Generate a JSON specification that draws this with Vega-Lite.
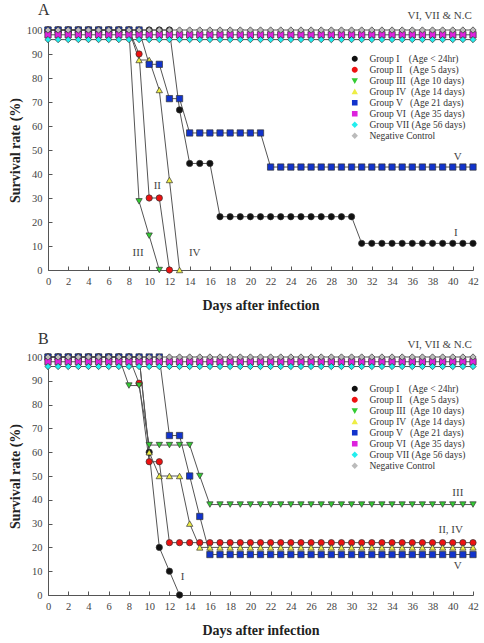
{
"$schema":"https://vega.github.io/schema/vega-lite/v6.json",
"padding":{"left":8,"top":1,"right":0,"bottom":0},
"background":"white",
"spacing":87,
"bounds":"flush",
"resolve":{"scale":{"fill":"independent","shape":"independent"},"legend":{"fill":"independent","shape":"independent"}},
"config":{"view":{"stroke":null},"font":"Liberation Serif",
"axis":{"grid":false,"domainColor":"#555","tickColor":"#555","tickSize":-4,"labelColor":"#444","labelFont":"Liberation Serif","labelFontSize":10.5,"labelPadding":10,"labelOverlap":false,"labelFlush":false,"titleFont":"Liberation Serif","titleFontSize":14,"titleFontWeight":"bold","titleColor":"#222"},
"legend":{"padding":0,"title":null,"orient":"none","legendX":302,"symbolSize":64,"symbolOpacity":1,"labelFontSize":9.5,"labelFont":"Liberation Serif","labelColor":"#333","labelOffset":10,"rowPadding":0,"symbolStrokeColor":"#333","symbolStrokeWidth":0.8}},
"datasets":{
"a":[
{"g":"I","d":0,"s":100},{"g":"I","d":1,"s":100},{"g":"I","d":2,"s":100},{"g":"I","d":3,"s":100},{"g":"I","d":4,"s":100},{"g":"I","d":5,"s":100},{"g":"I","d":6,"s":100},{"g":"I","d":7,"s":100},{"g":"I","d":8,"s":100},{"g":"I","d":9,"s":100},{"g":"I","d":10,"s":100},{"g":"I","d":11,"s":100},{"g":"I","d":12,"s":100},{"g":"I","d":13,"s":66.7},{"g":"I","d":14,"s":44.4},{"g":"I","d":15,"s":44.4},{"g":"I","d":16,"s":44.4},{"g":"I","d":17,"s":22.2},{"g":"I","d":18,"s":22.2},{"g":"I","d":19,"s":22.2},{"g":"I","d":20,"s":22.2},{"g":"I","d":21,"s":22.2},{"g":"I","d":22,"s":22.2},{"g":"I","d":23,"s":22.2},{"g":"I","d":24,"s":22.2},{"g":"I","d":25,"s":22.2},{"g":"I","d":26,"s":22.2},{"g":"I","d":27,"s":22.2},{"g":"I","d":28,"s":22.2},{"g":"I","d":29,"s":22.2},{"g":"I","d":30,"s":22.2},{"g":"I","d":31,"s":11.1},{"g":"I","d":32,"s":11.1},{"g":"I","d":33,"s":11.1},{"g":"I","d":34,"s":11.1},{"g":"I","d":35,"s":11.1},{"g":"I","d":36,"s":11.1},{"g":"I","d":37,"s":11.1},{"g":"I","d":38,"s":11.1},{"g":"I","d":39,"s":11.1},{"g":"I","d":40,"s":11.1},{"g":"I","d":41,"s":11.1},{"g":"I","d":42,"s":11.1},
{"g":"II","d":0,"s":100},{"g":"II","d":1,"s":100},{"g":"II","d":2,"s":100},{"g":"II","d":3,"s":100},{"g":"II","d":4,"s":100},{"g":"II","d":5,"s":100},{"g":"II","d":6,"s":100},{"g":"II","d":7,"s":100},{"g":"II","d":8,"s":100},{"g":"II","d":9,"s":90},{"g":"II","d":10,"s":30},{"g":"II","d":11,"s":30},{"g":"II","d":12,"s":0},
{"g":"III","d":0,"s":100},{"g":"III","d":1,"s":100},{"g":"III","d":2,"s":100},{"g":"III","d":3,"s":100},{"g":"III","d":4,"s":100},{"g":"III","d":5,"s":100},{"g":"III","d":6,"s":100},{"g":"III","d":7,"s":100},{"g":"III","d":8,"s":100},{"g":"III","d":9,"s":28.6},{"g":"III","d":10,"s":14.3},{"g":"III","d":11,"s":0},
{"g":"IV","d":0,"s":100},{"g":"IV","d":1,"s":100},{"g":"IV","d":2,"s":100},{"g":"IV","d":3,"s":100},{"g":"IV","d":4,"s":100},{"g":"IV","d":5,"s":100},{"g":"IV","d":6,"s":100},{"g":"IV","d":7,"s":100},{"g":"IV","d":8,"s":100},{"g":"IV","d":9,"s":87.5},{"g":"IV","d":10,"s":87.5},{"g":"IV","d":11,"s":75},{"g":"IV","d":12,"s":37.5},{"g":"IV","d":13,"s":0},
{"g":"V","d":0,"s":100},{"g":"V","d":1,"s":100},{"g":"V","d":2,"s":100},{"g":"V","d":3,"s":100},{"g":"V","d":4,"s":100},{"g":"V","d":5,"s":100},{"g":"V","d":6,"s":100},{"g":"V","d":7,"s":100},{"g":"V","d":8,"s":100},{"g":"V","d":9,"s":100},{"g":"V","d":10,"s":85.7},{"g":"V","d":11,"s":85.7},{"g":"V","d":12,"s":71.4},{"g":"V","d":13,"s":71.4},{"g":"V","d":14,"s":57.1},{"g":"V","d":15,"s":57.1},{"g":"V","d":16,"s":57.1},{"g":"V","d":17,"s":57.1},{"g":"V","d":18,"s":57.1},{"g":"V","d":19,"s":57.1},{"g":"V","d":20,"s":57.1},{"g":"V","d":21,"s":57.1},{"g":"V","d":22,"s":42.9},{"g":"V","d":23,"s":42.9},{"g":"V","d":24,"s":42.9},{"g":"V","d":25,"s":42.9},{"g":"V","d":26,"s":42.9},{"g":"V","d":27,"s":42.9},{"g":"V","d":28,"s":42.9},{"g":"V","d":29,"s":42.9},{"g":"V","d":30,"s":42.9},{"g":"V","d":31,"s":42.9},{"g":"V","d":32,"s":42.9},{"g":"V","d":33,"s":42.9},{"g":"V","d":34,"s":42.9},{"g":"V","d":35,"s":42.9},{"g":"V","d":36,"s":42.9},{"g":"V","d":37,"s":42.9},{"g":"V","d":38,"s":42.9},{"g":"V","d":39,"s":42.9},{"g":"V","d":40,"s":42.9},{"g":"V","d":41,"s":42.9},{"g":"V","d":42,"s":42.9},
{"g":"VI","d":0,"s":98},{"g":"VI","d":1,"s":98},{"g":"VI","d":2,"s":98},{"g":"VI","d":3,"s":98},{"g":"VI","d":4,"s":98},{"g":"VI","d":5,"s":98},{"g":"VI","d":6,"s":98},{"g":"VI","d":7,"s":98},{"g":"VI","d":8,"s":98},{"g":"VI","d":9,"s":98},{"g":"VI","d":10,"s":98},{"g":"VI","d":11,"s":98},{"g":"VI","d":12,"s":98},{"g":"VI","d":13,"s":98},{"g":"VI","d":14,"s":98},{"g":"VI","d":15,"s":98},{"g":"VI","d":16,"s":98},{"g":"VI","d":17,"s":98},{"g":"VI","d":18,"s":98},{"g":"VI","d":19,"s":98},{"g":"VI","d":20,"s":98},{"g":"VI","d":21,"s":98},{"g":"VI","d":22,"s":98},{"g":"VI","d":23,"s":98},{"g":"VI","d":24,"s":98},{"g":"VI","d":25,"s":98},{"g":"VI","d":26,"s":98},{"g":"VI","d":27,"s":98},{"g":"VI","d":28,"s":98},{"g":"VI","d":29,"s":98},{"g":"VI","d":30,"s":98},{"g":"VI","d":31,"s":98},{"g":"VI","d":32,"s":98},{"g":"VI","d":33,"s":98},{"g":"VI","d":34,"s":98},{"g":"VI","d":35,"s":98},{"g":"VI","d":36,"s":98},{"g":"VI","d":37,"s":98},{"g":"VI","d":38,"s":98},{"g":"VI","d":39,"s":98},{"g":"VI","d":40,"s":98},{"g":"VI","d":41,"s":98},{"g":"VI","d":42,"s":98},
{"g":"VII","d":0,"s":96},{"g":"VII","d":1,"s":96},{"g":"VII","d":2,"s":96},{"g":"VII","d":3,"s":96},{"g":"VII","d":4,"s":96},{"g":"VII","d":5,"s":96},{"g":"VII","d":6,"s":96},{"g":"VII","d":7,"s":96},{"g":"VII","d":8,"s":96},{"g":"VII","d":9,"s":96},{"g":"VII","d":10,"s":96},{"g":"VII","d":11,"s":96},{"g":"VII","d":12,"s":96},{"g":"VII","d":13,"s":96},{"g":"VII","d":14,"s":96},{"g":"VII","d":15,"s":96},{"g":"VII","d":16,"s":96},{"g":"VII","d":17,"s":96},{"g":"VII","d":18,"s":96},{"g":"VII","d":19,"s":96},{"g":"VII","d":20,"s":96},{"g":"VII","d":21,"s":96},{"g":"VII","d":22,"s":96},{"g":"VII","d":23,"s":96},{"g":"VII","d":24,"s":96},{"g":"VII","d":25,"s":96},{"g":"VII","d":26,"s":96},{"g":"VII","d":27,"s":96},{"g":"VII","d":28,"s":96},{"g":"VII","d":29,"s":96},{"g":"VII","d":30,"s":96},{"g":"VII","d":31,"s":96},{"g":"VII","d":32,"s":96},{"g":"VII","d":33,"s":96},{"g":"VII","d":34,"s":96},{"g":"VII","d":35,"s":96},{"g":"VII","d":36,"s":96},{"g":"VII","d":37,"s":96},{"g":"VII","d":38,"s":96},{"g":"VII","d":39,"s":96},{"g":"VII","d":40,"s":96},{"g":"VII","d":41,"s":96},{"g":"VII","d":42,"s":96},
{"g":"NC","d":0,"s":100},{"g":"NC","d":1,"s":100},{"g":"NC","d":2,"s":100},{"g":"NC","d":3,"s":100},{"g":"NC","d":4,"s":100},{"g":"NC","d":5,"s":100},{"g":"NC","d":6,"s":100},{"g":"NC","d":7,"s":100},{"g":"NC","d":8,"s":100},{"g":"NC","d":9,"s":100},{"g":"NC","d":10,"s":100},{"g":"NC","d":11,"s":100},{"g":"NC","d":12,"s":100},{"g":"NC","d":13,"s":100},{"g":"NC","d":14,"s":100},{"g":"NC","d":15,"s":100},{"g":"NC","d":16,"s":100},{"g":"NC","d":17,"s":100},{"g":"NC","d":18,"s":100},{"g":"NC","d":19,"s":100},{"g":"NC","d":20,"s":100},{"g":"NC","d":21,"s":100},{"g":"NC","d":22,"s":100},{"g":"NC","d":23,"s":100},{"g":"NC","d":24,"s":100},{"g":"NC","d":25,"s":100},{"g":"NC","d":26,"s":100},{"g":"NC","d":27,"s":100},{"g":"NC","d":28,"s":100},{"g":"NC","d":29,"s":100},{"g":"NC","d":30,"s":100},{"g":"NC","d":31,"s":100},{"g":"NC","d":32,"s":100},{"g":"NC","d":33,"s":100},{"g":"NC","d":34,"s":100},{"g":"NC","d":35,"s":100},{"g":"NC","d":36,"s":100},{"g":"NC","d":37,"s":100},{"g":"NC","d":38,"s":100},{"g":"NC","d":39,"s":100},{"g":"NC","d":40,"s":100},{"g":"NC","d":41,"s":100},{"g":"NC","d":42,"s":100}
],
"b":[
{"g":"I","d":0,"s":100},{"g":"I","d":1,"s":100},{"g":"I","d":2,"s":100},{"g":"I","d":3,"s":100},{"g":"I","d":4,"s":100},{"g":"I","d":5,"s":100},{"g":"I","d":6,"s":100},{"g":"I","d":7,"s":100},{"g":"I","d":8,"s":100},{"g":"I","d":9,"s":100},{"g":"I","d":10,"s":60},{"g":"I","d":11,"s":20},{"g":"I","d":12,"s":10},{"g":"I","d":13,"s":0},
{"g":"II","d":0,"s":100},{"g":"II","d":1,"s":100},{"g":"II","d":2,"s":100},{"g":"II","d":3,"s":100},{"g":"II","d":4,"s":100},{"g":"II","d":5,"s":100},{"g":"II","d":6,"s":100},{"g":"II","d":7,"s":100},{"g":"II","d":8,"s":100},{"g":"II","d":9,"s":89},{"g":"II","d":10,"s":56},{"g":"II","d":11,"s":56},{"g":"II","d":12,"s":22},{"g":"II","d":13,"s":22},{"g":"II","d":14,"s":22},{"g":"II","d":15,"s":22},{"g":"II","d":16,"s":22},{"g":"II","d":17,"s":22},{"g":"II","d":18,"s":22},{"g":"II","d":19,"s":22},{"g":"II","d":20,"s":22},{"g":"II","d":21,"s":22},{"g":"II","d":22,"s":22},{"g":"II","d":23,"s":22},{"g":"II","d":24,"s":22},{"g":"II","d":25,"s":22},{"g":"II","d":26,"s":22},{"g":"II","d":27,"s":22},{"g":"II","d":28,"s":22},{"g":"II","d":29,"s":22},{"g":"II","d":30,"s":22},{"g":"II","d":31,"s":22},{"g":"II","d":32,"s":22},{"g":"II","d":33,"s":22},{"g":"II","d":34,"s":22},{"g":"II","d":35,"s":22},{"g":"II","d":36,"s":22},{"g":"II","d":37,"s":22},{"g":"II","d":38,"s":22},{"g":"II","d":39,"s":22},{"g":"II","d":40,"s":22},{"g":"II","d":41,"s":22},{"g":"II","d":42,"s":22},
{"g":"III","d":0,"s":100},{"g":"III","d":1,"s":100},{"g":"III","d":2,"s":100},{"g":"III","d":3,"s":100},{"g":"III","d":4,"s":100},{"g":"III","d":5,"s":100},{"g":"III","d":6,"s":100},{"g":"III","d":7,"s":100},{"g":"III","d":8,"s":88},{"g":"III","d":9,"s":88},{"g":"III","d":10,"s":63},{"g":"III","d":11,"s":63},{"g":"III","d":12,"s":63},{"g":"III","d":13,"s":63},{"g":"III","d":14,"s":63},{"g":"III","d":15,"s":50},{"g":"III","d":16,"s":38},{"g":"III","d":17,"s":38},{"g":"III","d":18,"s":38},{"g":"III","d":19,"s":38},{"g":"III","d":20,"s":38},{"g":"III","d":21,"s":38},{"g":"III","d":22,"s":38},{"g":"III","d":23,"s":38},{"g":"III","d":24,"s":38},{"g":"III","d":25,"s":38},{"g":"III","d":26,"s":38},{"g":"III","d":27,"s":38},{"g":"III","d":28,"s":38},{"g":"III","d":29,"s":38},{"g":"III","d":30,"s":38},{"g":"III","d":31,"s":38},{"g":"III","d":32,"s":38},{"g":"III","d":33,"s":38},{"g":"III","d":34,"s":38},{"g":"III","d":35,"s":38},{"g":"III","d":36,"s":38},{"g":"III","d":37,"s":38},{"g":"III","d":38,"s":38},{"g":"III","d":39,"s":38},{"g":"III","d":40,"s":38},{"g":"III","d":41,"s":38},{"g":"III","d":42,"s":38},
{"g":"IV","d":0,"s":100},{"g":"IV","d":1,"s":100},{"g":"IV","d":2,"s":100},{"g":"IV","d":3,"s":100},{"g":"IV","d":4,"s":100},{"g":"IV","d":5,"s":100},{"g":"IV","d":6,"s":100},{"g":"IV","d":7,"s":100},{"g":"IV","d":8,"s":100},{"g":"IV","d":9,"s":100},{"g":"IV","d":10,"s":60},{"g":"IV","d":11,"s":50},{"g":"IV","d":12,"s":50},{"g":"IV","d":13,"s":50},{"g":"IV","d":14,"s":30},{"g":"IV","d":15,"s":20},{"g":"IV","d":16,"s":20},{"g":"IV","d":17,"s":20},{"g":"IV","d":18,"s":20},{"g":"IV","d":19,"s":20},{"g":"IV","d":20,"s":20},{"g":"IV","d":21,"s":20},{"g":"IV","d":22,"s":20},{"g":"IV","d":23,"s":20},{"g":"IV","d":24,"s":20},{"g":"IV","d":25,"s":20},{"g":"IV","d":26,"s":20},{"g":"IV","d":27,"s":20},{"g":"IV","d":28,"s":20},{"g":"IV","d":29,"s":20},{"g":"IV","d":30,"s":20},{"g":"IV","d":31,"s":20},{"g":"IV","d":32,"s":20},{"g":"IV","d":33,"s":20},{"g":"IV","d":34,"s":20},{"g":"IV","d":35,"s":20},{"g":"IV","d":36,"s":20},{"g":"IV","d":37,"s":20},{"g":"IV","d":38,"s":20},{"g":"IV","d":39,"s":20},{"g":"IV","d":40,"s":20},{"g":"IV","d":41,"s":20},{"g":"IV","d":42,"s":20},
{"g":"V","d":0,"s":100},{"g":"V","d":1,"s":100},{"g":"V","d":2,"s":100},{"g":"V","d":3,"s":100},{"g":"V","d":4,"s":100},{"g":"V","d":5,"s":100},{"g":"V","d":6,"s":100},{"g":"V","d":7,"s":100},{"g":"V","d":8,"s":100},{"g":"V","d":9,"s":100},{"g":"V","d":10,"s":100},{"g":"V","d":11,"s":100},{"g":"V","d":12,"s":67},{"g":"V","d":13,"s":67},{"g":"V","d":14,"s":50},{"g":"V","d":15,"s":33},{"g":"V","d":16,"s":17},{"g":"V","d":17,"s":17},{"g":"V","d":18,"s":17},{"g":"V","d":19,"s":17},{"g":"V","d":20,"s":17},{"g":"V","d":21,"s":17},{"g":"V","d":22,"s":17},{"g":"V","d":23,"s":17},{"g":"V","d":24,"s":17},{"g":"V","d":25,"s":17},{"g":"V","d":26,"s":17},{"g":"V","d":27,"s":17},{"g":"V","d":28,"s":17},{"g":"V","d":29,"s":17},{"g":"V","d":30,"s":17},{"g":"V","d":31,"s":17},{"g":"V","d":32,"s":17},{"g":"V","d":33,"s":17},{"g":"V","d":34,"s":17},{"g":"V","d":35,"s":17},{"g":"V","d":36,"s":17},{"g":"V","d":37,"s":17},{"g":"V","d":38,"s":17},{"g":"V","d":39,"s":17},{"g":"V","d":40,"s":17},{"g":"V","d":41,"s":17},{"g":"V","d":42,"s":17},
{"g":"VI","d":0,"s":98},{"g":"VI","d":1,"s":98},{"g":"VI","d":2,"s":98},{"g":"VI","d":3,"s":98},{"g":"VI","d":4,"s":98},{"g":"VI","d":5,"s":98},{"g":"VI","d":6,"s":98},{"g":"VI","d":7,"s":98},{"g":"VI","d":8,"s":98},{"g":"VI","d":9,"s":98},{"g":"VI","d":10,"s":98},{"g":"VI","d":11,"s":98},{"g":"VI","d":12,"s":98},{"g":"VI","d":13,"s":98},{"g":"VI","d":14,"s":98},{"g":"VI","d":15,"s":98},{"g":"VI","d":16,"s":98},{"g":"VI","d":17,"s":98},{"g":"VI","d":18,"s":98},{"g":"VI","d":19,"s":98},{"g":"VI","d":20,"s":98},{"g":"VI","d":21,"s":98},{"g":"VI","d":22,"s":98},{"g":"VI","d":23,"s":98},{"g":"VI","d":24,"s":98},{"g":"VI","d":25,"s":98},{"g":"VI","d":26,"s":98},{"g":"VI","d":27,"s":98},{"g":"VI","d":28,"s":98},{"g":"VI","d":29,"s":98},{"g":"VI","d":30,"s":98},{"g":"VI","d":31,"s":98},{"g":"VI","d":32,"s":98},{"g":"VI","d":33,"s":98},{"g":"VI","d":34,"s":98},{"g":"VI","d":35,"s":98},{"g":"VI","d":36,"s":98},{"g":"VI","d":37,"s":98},{"g":"VI","d":38,"s":98},{"g":"VI","d":39,"s":98},{"g":"VI","d":40,"s":98},{"g":"VI","d":41,"s":98},{"g":"VI","d":42,"s":98},
{"g":"VII","d":0,"s":96},{"g":"VII","d":1,"s":96},{"g":"VII","d":2,"s":96},{"g":"VII","d":3,"s":96},{"g":"VII","d":4,"s":96},{"g":"VII","d":5,"s":96},{"g":"VII","d":6,"s":96},{"g":"VII","d":7,"s":96},{"g":"VII","d":8,"s":96},{"g":"VII","d":9,"s":96},{"g":"VII","d":10,"s":96},{"g":"VII","d":11,"s":96},{"g":"VII","d":12,"s":96},{"g":"VII","d":13,"s":96},{"g":"VII","d":14,"s":96},{"g":"VII","d":15,"s":96},{"g":"VII","d":16,"s":96},{"g":"VII","d":17,"s":96},{"g":"VII","d":18,"s":96},{"g":"VII","d":19,"s":96},{"g":"VII","d":20,"s":96},{"g":"VII","d":21,"s":96},{"g":"VII","d":22,"s":96},{"g":"VII","d":23,"s":96},{"g":"VII","d":24,"s":96},{"g":"VII","d":25,"s":96},{"g":"VII","d":26,"s":96},{"g":"VII","d":27,"s":96},{"g":"VII","d":28,"s":96},{"g":"VII","d":29,"s":96},{"g":"VII","d":30,"s":96},{"g":"VII","d":31,"s":96},{"g":"VII","d":32,"s":96},{"g":"VII","d":33,"s":96},{"g":"VII","d":34,"s":96},{"g":"VII","d":35,"s":96},{"g":"VII","d":36,"s":96},{"g":"VII","d":37,"s":96},{"g":"VII","d":38,"s":96},{"g":"VII","d":39,"s":96},{"g":"VII","d":40,"s":96},{"g":"VII","d":41,"s":96},{"g":"VII","d":42,"s":96},
{"g":"NC","d":0,"s":100},{"g":"NC","d":1,"s":100},{"g":"NC","d":2,"s":100},{"g":"NC","d":3,"s":100},{"g":"NC","d":4,"s":100},{"g":"NC","d":5,"s":100},{"g":"NC","d":6,"s":100},{"g":"NC","d":7,"s":100},{"g":"NC","d":8,"s":100},{"g":"NC","d":9,"s":100},{"g":"NC","d":10,"s":100},{"g":"NC","d":11,"s":100},{"g":"NC","d":12,"s":100},{"g":"NC","d":13,"s":100},{"g":"NC","d":14,"s":100},{"g":"NC","d":15,"s":100},{"g":"NC","d":16,"s":100},{"g":"NC","d":17,"s":100},{"g":"NC","d":18,"s":100},{"g":"NC","d":19,"s":100},{"g":"NC","d":20,"s":100},{"g":"NC","d":21,"s":100},{"g":"NC","d":22,"s":100},{"g":"NC","d":23,"s":100},{"g":"NC","d":24,"s":100},{"g":"NC","d":25,"s":100},{"g":"NC","d":26,"s":100},{"g":"NC","d":27,"s":100},{"g":"NC","d":28,"s":100},{"g":"NC","d":29,"s":100},{"g":"NC","d":30,"s":100},{"g":"NC","d":31,"s":100},{"g":"NC","d":32,"s":100},{"g":"NC","d":33,"s":100},{"g":"NC","d":34,"s":100},{"g":"NC","d":35,"s":100},{"g":"NC","d":36,"s":100},{"g":"NC","d":37,"s":100},{"g":"NC","d":38,"s":100},{"g":"NC","d":39,"s":100},{"g":"NC","d":40,"s":100},{"g":"NC","d":41,"s":100},{"g":"NC","d":42,"s":100}
],
"ann":[
{"p":"A","d":38.7,"s":106,"t":"VI, VII & N.C"},{"p":"A","d":40.5,"s":47,"t":"V"},{"p":"A","d":40.3,"s":15.5,"t":"I"},{"p":"A","d":10.8,"s":35,"t":"II"},{"p":"A","d":8.9,"s":7,"t":"III"},{"p":"A","d":14.5,"s":7,"t":"IV"},
{"p":"B","d":38.7,"s":105,"t":"VI, VII & N.C"},{"p":"B","d":40.5,"s":43,"t":"III"},{"p":"B","d":39.8,"s":27.5,"t":"II, IV"},{"p":"B","d":40.5,"s":12,"t":"V"},{"p":"B","d":13.3,"s":7.5,"t":"I"}
]},
"vconcat":[
{"width":425,"height":240,
"title":{"text":"A","anchor":"start","frame":"group","fontSize":16,"fontWeight":"normal","font":"Liberation Serif","color":"#333","dx":-10,"offset":-8},
"resolve":{"scale":{"fill":"independent","shape":"independent"},"legend":{"fill":"independent","shape":"independent"}},
"encoding":{"x":{"field":"d","type":"quantitative","scale":{"domain":[0,42],"nice":false},"axis":{"values":[0,2,4,6,8,10,12,14,16,18,20,22,24,26,28,30,32,34,36,38,40,42],"labelOverlap":false,"labelFlush":false,"title":"Days after infection","titlePadding":12}},
"y":{"field":"s","type":"quantitative","scale":{"domain":[0,100],"nice":false},"axis":{"values":[0,10,20,30,40,50,60,70,80,90,100],"labelOverlap":false,"labelFlush":false,"title":"Survival rate (%)","titlePadding":4}}},
"layer":[
{"data":{"name":"a"},"mark":{"type":"line","stroke":"#555","strokeWidth":1},"encoding":{"detail":{"field":"g"}}},
{"data":{"name":"a"},"mark":{"type":"point","filled":true,"size":40,"stroke":"#333","strokeWidth":0.7,"opacity":1},
"encoding":{
"fill":{"field":"g","type":"nominal","scale":{"domain":["I","II","III","IV","V","VI","VII","NC"],"range":["#111111","#ee1111","#33cc33","#eeee44","#1133cc","#dd22dd","#22eeee","#bbbbbb"]},"legend":null},
"shape":{"field":"g","type":"nominal","scale":{"domain":["I","II","III","IV","V","VI","VII","NC"],"range":["circle","circle","triangle-down","triangle-up","square","square","diamond","diamond"]},"legend":null}}},
{"data":{"name":"a"},"mark":{"type":"point","filled":true,"size":64,"stroke":"#333","strokeWidth":0.8,"opacity":0},
"encoding":{
"fill":{"field":"g","type":"nominal","scale":{"domain":["I","II","III","IV","V","VI","VII","NC"],"range":["#111111","#ee1111","#33cc33","#eeee44","#1133cc","#dd22dd","#22eeee","#bbbbbb"]},
"legend":{"legendY":24,"symbolOpacity":1,"labelExpr":"['Group I\u00a0\u00a0\u00a0\u00a0(Age < 24hr)','Group II\u00a0\u00a0\u00a0(Age 5 days)','Group III\u00a0\u00a0(Age 10 days)','Group IV\u00a0\u00a0(Age 14 days)','Group V\u00a0\u00a0\u00a0(Age 21 days)','Group VI\u00a0\u00a0(Age 35 days)','Group VII\u00a0(Age 56 days)','Negative Control'][indexof(['I','II','III','IV','V','VI','VII','NC'], datum.value)]"}},
"shape":{"field":"g","type":"nominal","scale":{"domain":["I","II","III","IV","V","VI","VII","NC"],"range":["M-2,0L-0.75,0M0.75,0L2,0M0.75,0A0.75,0.75,0,1,1,-0.75,0A0.75,0.75,0,1,1,0.75,0Z","M-2,0L-0.75,0M0.75,0L2,0M0.75,0A0.75,0.75,0,1,1,-0.75,0A0.75,0.75,0,1,1,0.75,0Z","M-2,0L-0.46,0M0.46,0L2,0M-0.8,-0.6L0.8,-0.6L0,0.8Z","M-2,0L-0.46,0M0.46,0L2,0M0,-0.8L0.8,0.6L-0.8,0.6Z","M-2,0L-0.7,0M0.7,0L2,0M-0.7,-0.7L0.7,-0.7L0.7,0.7L-0.7,0.7Z","M-2,0L-0.7,0M0.7,0L2,0M-0.7,-0.7L0.7,-0.7L0.7,0.7L-0.7,0.7Z","M-2,0L-0.8,0M0.8,0L2,0M0,-0.8L0.8,0L0,0.8L-0.8,0Z","M-2,0L-0.8,0M0.8,0L2,0M0,-0.8L0.8,0L0,0.8L-0.8,0Z"]},
"legend":{"legendY":24,"symbolOpacity":1,"labelExpr":"['Group I\u00a0\u00a0\u00a0\u00a0(Age < 24hr)','Group II\u00a0\u00a0\u00a0(Age 5 days)','Group III\u00a0\u00a0(Age 10 days)','Group IV\u00a0\u00a0(Age 14 days)','Group V\u00a0\u00a0\u00a0(Age 21 days)','Group VI\u00a0\u00a0(Age 35 days)','Group VII\u00a0(Age 56 days)','Negative Control'][indexof(['I','II','III','IV','V','VI','VII','NC'], datum.value)]"}}}},
{"data":{"name":"ann"},"transform":[{"filter":"datum.p === 'A'"}],"mark":{"type":"text","font":"Liberation Serif","fontSize":11,"color":"#444"},
"encoding":{"text":{"field":"t"}}},
{"mark":{"type":"rule","stroke":"#555","strokeWidth":1},"encoding":{"x":{"datum":42,"type":"quantitative"},"y":{"datum":0,"type":"quantitative"},"y2":{"datum":100}}}
]},
{"width":425,"height":238,
"title":{"text":"B","anchor":"start","frame":"group","fontSize":16,"fontWeight":"normal","font":"Liberation Serif","color":"#333","dx":-10,"offset":-8},
"resolve":{"scale":{"fill":"independent","shape":"independent"},"legend":{"fill":"independent","shape":"independent"}},
"encoding":{"x":{"field":"d","type":"quantitative","scale":{"domain":[0,42],"nice":false},"axis":{"values":[0,2,4,6,8,10,12,14,16,18,20,22,24,26,28,30,32,34,36,38,40,42],"labelOverlap":false,"labelFlush":false,"title":"Days after infection","titlePadding":12}},
"y":{"field":"s","type":"quantitative","scale":{"domain":[0,100],"nice":false},"axis":{"values":[0,10,20,30,40,50,60,70,80,90,100],"labelOverlap":false,"labelFlush":false,"title":"Survival rate (%)","titlePadding":4}}},
"layer":[
{"data":{"name":"b"},"mark":{"type":"line","stroke":"#555","strokeWidth":1},"encoding":{"detail":{"field":"g"}}},
{"data":{"name":"b"},"mark":{"type":"point","filled":true,"size":40,"stroke":"#333","strokeWidth":0.7,"opacity":1},
"encoding":{
"fill":{"field":"g","type":"nominal","scale":{"domain":["I","II","III","IV","V","VI","VII","NC"],"range":["#111111","#ee1111","#33cc33","#eeee44","#1133cc","#dd22dd","#22eeee","#bbbbbb"]},"legend":null},
"shape":{"field":"g","type":"nominal","scale":{"domain":["I","II","III","IV","V","VI","VII","NC"],"range":["circle","circle","triangle-down","triangle-up","square","square","diamond","diamond"]},"legend":null}}},
{"data":{"name":"b"},"mark":{"type":"point","filled":true,"size":64,"stroke":"#333","strokeWidth":0.8,"opacity":0},
"encoding":{
"fill":{"field":"g","type":"nominal","scale":{"domain":["I","II","III","IV","V","VI","VII","NC"],"range":["#111111","#ee1111","#33cc33","#eeee44","#1133cc","#dd22dd","#22eeee","#bbbbbb"]},
"legend":{"legendY":27,"symbolOpacity":1,"labelExpr":"['Group I\u00a0\u00a0\u00a0\u00a0(Age < 24hr)','Group II\u00a0\u00a0\u00a0(Age 5 days)','Group III\u00a0\u00a0(Age 10 days)','Group IV\u00a0\u00a0(Age 14 days)','Group V\u00a0\u00a0\u00a0(Age 21 days)','Group VI\u00a0\u00a0(Age 35 days)','Group VII\u00a0(Age 56 days)','Negative Control'][indexof(['I','II','III','IV','V','VI','VII','NC'], datum.value)]"}},
"shape":{"field":"g","type":"nominal","scale":{"domain":["I","II","III","IV","V","VI","VII","NC"],"range":["M-2,0L-0.75,0M0.75,0L2,0M0.75,0A0.75,0.75,0,1,1,-0.75,0A0.75,0.75,0,1,1,0.75,0Z","M-2,0L-0.75,0M0.75,0L2,0M0.75,0A0.75,0.75,0,1,1,-0.75,0A0.75,0.75,0,1,1,0.75,0Z","M-2,0L-0.46,0M0.46,0L2,0M-0.8,-0.6L0.8,-0.6L0,0.8Z","M-2,0L-0.46,0M0.46,0L2,0M0,-0.8L0.8,0.6L-0.8,0.6Z","M-2,0L-0.7,0M0.7,0L2,0M-0.7,-0.7L0.7,-0.7L0.7,0.7L-0.7,0.7Z","M-2,0L-0.7,0M0.7,0L2,0M-0.7,-0.7L0.7,-0.7L0.7,0.7L-0.7,0.7Z","M-2,0L-0.8,0M0.8,0L2,0M0,-0.8L0.8,0L0,0.8L-0.8,0Z","M-2,0L-0.8,0M0.8,0L2,0M0,-0.8L0.8,0L0,0.8L-0.8,0Z"]},
"legend":{"legendY":27,"symbolOpacity":1,"labelExpr":"['Group I\u00a0\u00a0\u00a0\u00a0(Age < 24hr)','Group II\u00a0\u00a0\u00a0(Age 5 days)','Group III\u00a0\u00a0(Age 10 days)','Group IV\u00a0\u00a0(Age 14 days)','Group V\u00a0\u00a0\u00a0(Age 21 days)','Group VI\u00a0\u00a0(Age 35 days)','Group VII\u00a0(Age 56 days)','Negative Control'][indexof(['I','II','III','IV','V','VI','VII','NC'], datum.value)]"}}}},
{"data":{"name":"ann"},"transform":[{"filter":"datum.p === 'B'"}],"mark":{"type":"text","font":"Liberation Serif","fontSize":11,"color":"#444"},
"encoding":{"text":{"field":"t"}}},
{"mark":{"type":"rule","stroke":"#555","strokeWidth":1},"encoding":{"x":{"datum":42,"type":"quantitative"},"y":{"datum":0,"type":"quantitative"},"y2":{"datum":100}}}
]}
]}
